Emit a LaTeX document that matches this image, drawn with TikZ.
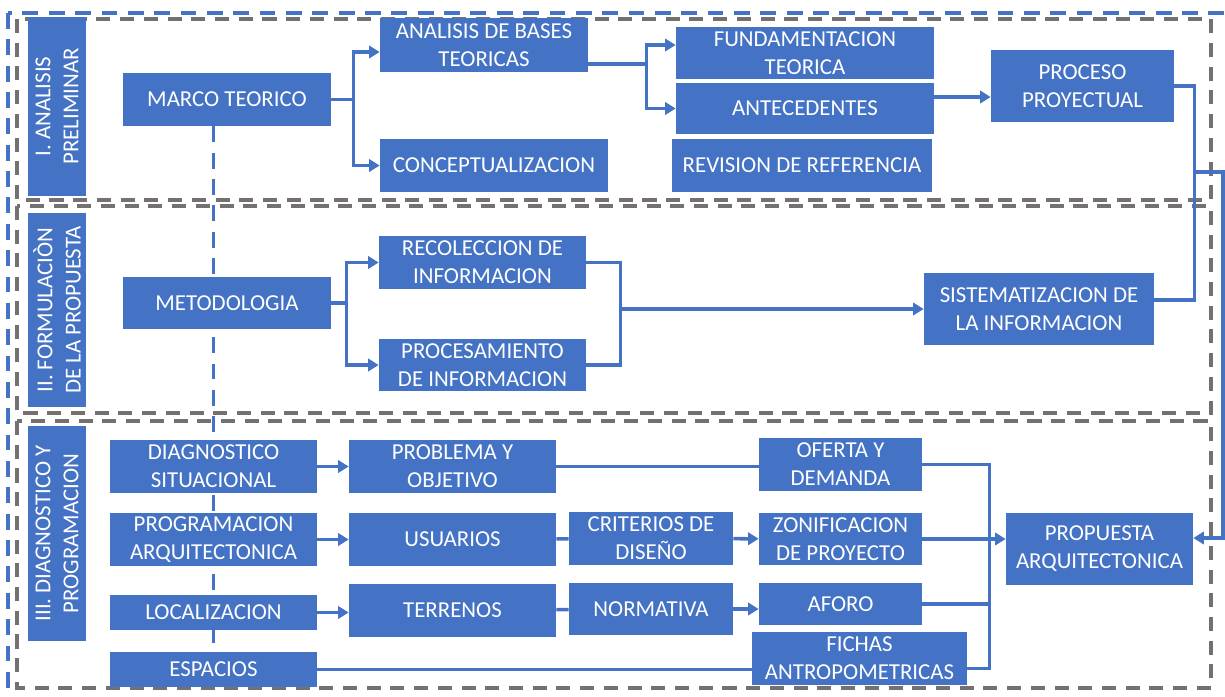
\documentclass[tikz,border=0pt]{standalone}
\usepackage{fontspec}
\setmainfont{Carlito}
\usetikzlibrary{arrows.meta, positioning, calc, backgrounds}
\definecolor{azul}{HTML}{4472C4}
\definecolor{gris}{HTML}{767171}

\begin{document}
\begin{tikzpicture}[
    x=0.02cm, y=-0.02cm,
    caja/.style={rectangle, fill=azul, text=white, align=center, inner sep=1pt, font=\fontsize{13}{16}\selectfont},
    etapa/.style={caja, rotate=90, minimum height=1.16cm},
    linea/.style={draw=azul, line width=2pt},
    rel/.style={linea, -{Triangle[length=6pt,width=7pt]}},
    seccion/.style={draw=gris, line width=2.2pt, dash pattern=on 8pt off 5.5pt},
    guia/.style={draw=azul, line width=2.2pt, dash pattern=on 9pt off 6pt}
]
\useasboundingbox (0,0) rectangle (1225,697);

% marcos de las etapas
\draw[guia] (8,13) rectangle (1240,720);
\draw[seccion] (17,19) rectangle (1211,200);
\draw[seccion] (17,206) rectangle (1211,413);
\draw[seccion] (17,421) rectangle (1211,688);

% etapas
\node[etapa, minimum width=3.58cm] (et1) at (57,106.5) {I. ANALISIS\\PRELIMINAR};
\node[etapa, minimum width=3.88cm] (et2) at (57,310) {II. FORMULACIÒN\\DE LA PROPUESTA};
\node[etapa, minimum width=4.3cm]  (et3) at (57,533.5) {III. DIAGNOSTICO Y\\PROGRAMACION};

% I. analisis preliminar
\node[caja, minimum width=4.16cm, minimum height=1.06cm] (marco)    at (227,99.5)  {MARCO TEORICO};
\node[caja, minimum width=4.16cm, minimum height=1.08cm] (analisis) at (484,45)    {ANALISIS DE BASES\\TEORICAS};
\node[caja, minimum width=4.56cm, minimum height=1.06cm] (concep)   at (494,165.5) {CONCEPTUALIZACION};
\node[caja, minimum width=5.16cm, minimum height=1.04cm] (fundam)   at (805,53)    {FUNDAMENTACION\\TEORICA};
\node[caja, minimum width=5.16cm, minimum height=1.02cm] (antec)    at (805,108.5) {ANTECEDENTES};
\node[caja, minimum width=5.2cm,  minimum height=1.06cm] (revision) at (802,165.5) {REVISION DE REFERENCIA};
\node[caja, minimum width=3.66cm, minimum height=1.44cm] (proceso)  at (1082.5,86) {PROCESO\\PROYECTUAL};

% II. formulacion de la propuesta
\node[caja, minimum width=4.16cm, minimum height=1.04cm] (metodo)  at (227,303)    {METODOLOGIA};
\node[caja, minimum width=4.14cm, minimum height=1.06cm] (recole)  at (482.5,262.5) {RECOLECCION DE\\INFORMACION};
\node[caja, minimum width=4.14cm, minimum height=1.04cm] (procesa) at (482.5,365)  {PROCESAMIENTO\\DE INFORMACION};
\node[caja, minimum width=4.6cm,  minimum height=1.44cm] (sistema) at (1039,309)   {SISTEMATIZACION DE\\LA INFORMACION};

% III. diagnostico y programacion
\node[caja, minimum width=4.14cm, minimum height=1.06cm] (diagno)    at (213.5,466.5) {DIAGNOSTICO\\SITUACIONAL};
\node[caja, minimum width=4.14cm, minimum height=1.06cm] (program)   at (213.5,539.5) {PROGRAMACION\\ARQUITECTONICA};
\node[caja, minimum width=4.14cm, minimum height=0.7cm]  (locali)    at (213.5,612.5) {LOCALIZACION};
\node[caja, minimum width=4.14cm, minimum height=0.7cm]  (espacios)  at (213.5,669.5) {ESPACIOS};
\node[caja, minimum width=4.14cm, minimum height=1.06cm] (problema)  at (452.5,466.5) {PROBLEMA Y\\OBJETIVO};
\node[caja, minimum width=4.14cm, minimum height=1.06cm] (usuarios)  at (452.5,539.5) {USUARIOS};
\node[caja, minimum width=4.14cm, minimum height=1.06cm] (terrenos)  at (452.5,610.5) {TERRENOS};
\node[caja, minimum width=3.28cm, minimum height=1.06cm] (criterios) at (651,538.5)   {CRITERIOS DE\\DISEÑO};
\node[caja, minimum width=3.28cm, minimum height=1.04cm] (normativa) at (651,609)     {NORMATIVA};
\node[caja, minimum width=3.26cm, minimum height=1.06cm] (oferta)    at (840.5,464.5) {OFERTA Y\\DEMANDA};
\node[caja, minimum width=3.26cm, minimum height=1.04cm] (zonif)     at (840.5,539)   {ZONIFICACION\\DE PROYECTO};
\node[caja, minimum width=3.26cm, minimum height=0.84cm] (aforo)     at (840.5,604)   {AFORO};
\node[caja, minimum width=4.3cm,  minimum height=1.06cm] (fichas)    at (859.5,658.5) {FICHAS\\ANTROPOMETRICAS};
\node[caja, minimum width=3.74cm, minimum height=1.44cm] (propuesta) at (1099.5,549)  {PROPUESTA\\ARQUITECTONICA};

% linea guia entre etapas
\begin{scope}[on background layer]
\draw[guia] (marco.south -| diagno.north) -- (espacios.north);
\end{scope}

% conexiones I
\draw[linea] (marco.east) -- ++(22,0) coordinate (m1);
\draw[rel] (m1) |- ([yshift=-0.14cm]analisis.west);
\draw[rel] (m1) |- (concep.west);
\draw[linea] ([yshift=-0.38cm]analisis.east) -- ++(58,0) coordinate (a1);
\draw[rel] (a1) |- ([yshift=0.16cm]fundam.west);
\draw[rel] (a1) |- (antec.west);
\draw[rel] ([yshift=0.23cm]antec.east) -- ([yshift=0.23cm]antec.east -| proceso.west);
\draw[linea] (proceso.east) -- ++(20,0) coordinate (p1) |- ([yshift=0.18cm]sistema.east);
\coordinate (p2) at (1194,172);
\draw[rel] (p2) -- ++(29,0) |- ([yshift=0.22cm]propuesta.east);

% conexiones II
\draw[linea] (metodo.east) -- ++(15,0) coordinate (m2);
\draw[rel] (m2) |- (recole.west);
\draw[rel] (m2) |- (procesa.west);
\draw[linea] (recole.east) -- ++(34,0) coordinate (r2) |- (procesa.east);
\draw[rel] (r2 |- sistema.west) -- (sistema.west);

% conexiones III
\draw[rel] (diagno) -- (problema);
\draw[rel] (program) -- (usuarios);
\draw[rel] (locali.east) -- (locali.east -| terrenos.west);
\draw[linea] (usuarios) -- (criterios);
\draw[linea] (terrenos) -- (normativa);
\draw[rel] (criterios) -- (zonif);
\draw[rel] (normativa.east) -- (normativa.east -| aforo.west);
\draw[linea] (problema.east) -- (problema.east -| oferta.west);
\draw[linea] (espacios.east) -- (espacios.east -| fichas.west);
\draw[linea] (oferta.east) -- ++(67,0) coordinate (c1) |- ([yshift=-0.2cm]fichas.east);
\draw[linea] (aforo.east) -- (aforo.east -| c1);
\draw[rel] (zonif.east) -- (zonif.east -| propuesta.west);

\end{tikzpicture}
\end{document}
